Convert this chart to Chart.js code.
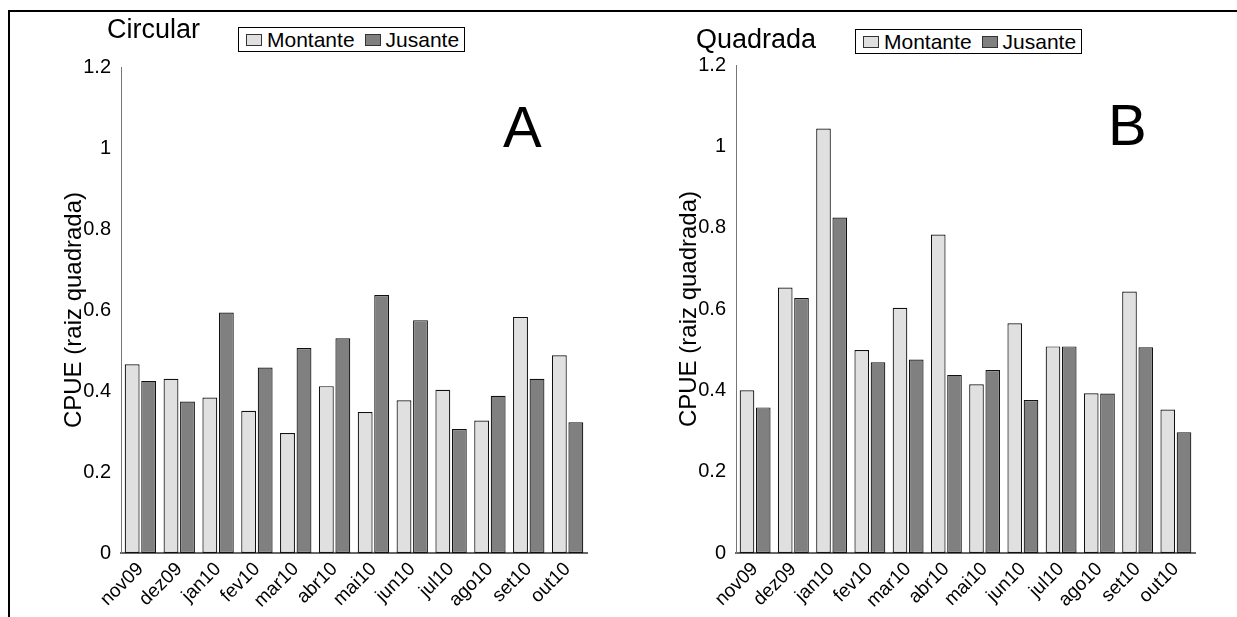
<!DOCTYPE html>
<html>
<head>
<meta charset="utf-8">
<script src="https://cdn.jsdelivr.net/npm/chart.js@4"></script>
<style>
  html, body { margin: 0; padding: 0; background: #fff; }
  body { width: 1237px; height: 617px; position: relative; overflow: hidden;
         font-family: "Liberation Sans", Arial, sans-serif; color: #000; }
  canvas { position: absolute; top: 0; }
  .frame { position: absolute; left: 8px; top: 10px; right: -4px; bottom: -4px;
           border-top: 2px solid #000; border-left: 2px solid #000; }
  .txt { position: absolute; line-height: 1; white-space: nowrap; }
  .panel-title { font-size: 27px; }
  .letter { font-size: 58px; }
  .legend { position: absolute; border: 1px solid #000; background: #fff;
            font-size: 21px; line-height: 23px; height: 23px; padding: 0 5px 0 7px;
            white-space: nowrap; }
  .sw { display: inline-block; width: 14px; height: 10px; border: 1px solid #333;
        margin-right: 5px; vertical-align: 1px; }
  .sw.j { margin-left: 10px; }
</style>
</head>
<body>
<div class="frame"></div>
<canvas id="cA" width="618" height="617" style="left:0"></canvas>
<canvas id="cB" width="619" height="617" style="left:618px"></canvas>

<div class="txt panel-title" style="left:107px;top:16px">Circular</div>
<div class="legend" style="left:238px;top:27px"><span class="sw" style="background:#e0e0e0"></span>Montante<span class="sw j" style="background:#808080"></span>Jusante</div>
<div class="txt letter" style="left:503px;top:98px">A</div>

<div class="txt panel-title" style="left:696px;top:26px">Quadrada</div>
<div class="legend" style="left:855px;top:29px"><span class="sw" style="background:#e0e0e0"></span>Montante<span class="sw j" style="background:#808080"></span>Jusante</div>
<div class="txt letter" style="left:1108px;top:96px">B</div>

<script>
// meses de amostragem
const months = ["nov09", "dez09", "jan10", "fev10", "mar10", "abr10",
  "mai10", "jun10", "jul10", "ago10", "set10", "out10"];
const yTicks = [0, 0.2, 0.4, 0.6, 0.8, 1, 1.2];

// A: rede circular
const circMontante = [0.466, 0.430, 0.384, 0.351, 0.296, 0.412, 0.348, 0.377, 0.403, 0.327, 0.583, 0.488];
const circJusante  = [0.425, 0.374, 0.594, 0.458, 0.506, 0.530, 0.637, 0.575, 0.306, 0.388, 0.430, 0.323];

// B: rede quadrada
const quadMontante = [0.400, 0.653, 1.044, 0.499, 0.603, 0.783, 0.415, 0.565, 0.508, 0.393, 0.643, 0.353];
const quadJusante  = [0.358, 0.627, 0.825, 0.469, 0.476, 0.438, 0.450, 0.376, 0.508, 0.392, 0.506, 0.297];

const FONT = "'Liberation Sans', Arial, sans-serif";

function buildChart(canvas, montante, jusante, geo) {
  const bar = {
    borderColor: "#111",
    borderWidth: 1.2,
    borderSkipped: false,
    categoryPercentage: 0.85,
    barPercentage: 0.9,
  };
  return new Chart(canvas, {
    type: "bar",
    data: {
      labels: months,
      datasets: [
        Object.assign({ label: "Montante", data: montante, backgroundColor: "#e0e0e0" }, bar),
        Object.assign({ label: "Jusante", data: jusante, backgroundColor: "#808080" }, bar),
      ],
    },
    options: {
      responsive: false,
      animation: false,
      layout: { padding: { top: geo.top, right: geo.right, left: 0, bottom: 0 } },
      plugins: { legend: { display: false }, tooltip: { enabled: false } },
      scales: {
        x: {
          grid: { display: false, drawTicks: false },
          border: { color: "#666", width: 2 },
          ticks: { color: "#000", font: { family: FONT, size: 19 }, autoSkip: false,
                   minRotation: 45, maxRotation: 45, padding: 5 },
          afterFit: (s) => { s.height = 64; },
        },
        y: {
          min: 0, max: 1.2,
          afterBuildTicks: (s) => { s.ticks = yTicks.map((v) => ({ value: v })); },
          grid: { display: false, drawTicks: false },
          border: { color: "#777", width: 1 },
          ticks: { color: "#000", font: { family: FONT, size: 20 }, padding: 10,
                   callback: (v) => String(+v.toFixed(1)) },
          title: { display: true, text: "CPUE (raiz quadrada)", color: "#000",
                   font: { family: FONT, size: 24 }, padding: { top: geo.titlePad } },
          afterFit: (s) => { s.width = geo.yWidth; },
        },
      },
    },
  });
}

buildChart(document.getElementById("cA"), circMontante, circJusante,
  { top: 67, right: 31, yWidth: 121, titlePad: 60 });
buildChart(document.getElementById("cB"), quadMontante, quadJusante,
  { top: 65, right: 42, yWidth: 118, titlePad: 57 });
</script>
</body>
</html>
